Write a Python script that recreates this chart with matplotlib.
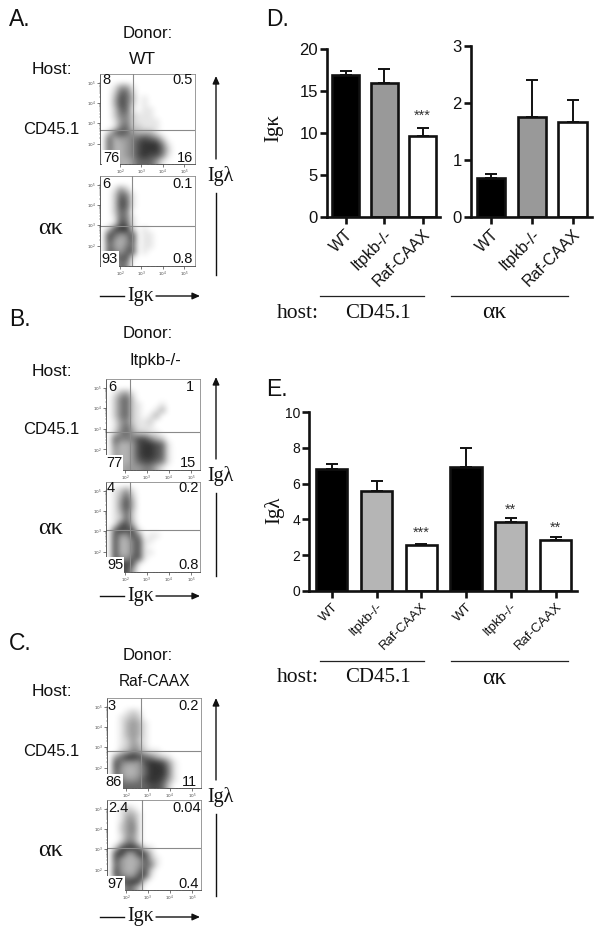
import numpy as np
import matplotlib
matplotlib.use('Agg')
import matplotlib.pyplot as plt

W, H = 600, 933
SANS = 'Liberation Sans'
SERIF = 'Liberation Serif'

# ---- bar data ----
cats = ['WT', 'Itpkb-/-', 'Raf-CAAX']
d_left_vals = [16.9, 15.9, 9.6]
d_left_tops = [17.4, 17.6, 10.6]
d_right_vals = [0.68, 1.75, 1.67]
d_right_tops = [0.75, 2.4, 2.05]
e_vals = [6.8, 5.6, 2.55, 6.9, 3.85, 2.87]
e_tops = [7.1, 6.15, 2.65, 8.0, 4.1, 3.0]
e_cats = cats + cats
d_colors = ['black', '#999999', 'white']
e_colors = ['black', '#b5b5b5', 'white'] * 2

dens_a_top = ["0000000000000000", "0000000000000000", "0014410000000000", "0026620000000000",
              "0037630100000000", "0037620100000000", "0026610110000000", "0025521110000000",
              "0014521111000000", "0015622111000000", "0267643331000000", "0634456765200000",
              "0633457888510000", "0633457888620000", "0533457877510000", "0343346664100000"]
dens_a_bot = ["0000000000000000", "0000000000000000", "0014200000000000", "0026510000000000",
              "0027610000000000", "0027610000000000", "0026500000000000", "0016510000000000",
              "0017610000000000", "0278820100000000", "0764570110000000", "0743470110000000",
              "0643560110000000", "0754670100000000", "0266710000000000", "0036500000000000"]
dens_b_top = ["0000000000000000", "0000000000000000", "0134100000000000", "0256200000000000",
              "0256210001000000", "0256210013000000", "0256210130000000", "0145211200000000",
              "0146311100000000", "0256422110000000", "0655577532000000", "0533478876100000",
              "0433478876100000", "0433478876100000", "0433467765100000", "0234445531000000"]
dens_b_bot = ["0000000000000000", "0124100000000000", "0136200000000000", "0147300000000000",
              "0147300000000000", "0136200000000000", "0126200000000000", "0167300000000000",
              "0687710000000000", "0744750110000000", "0733571100000000", "0733571000000000",
              "0733571100000000", "0744671000000000", "0687710000000000", "0477400000000000"]
dens_c_top = ["0000000000000000", "0000000000000000", "0001210000000000", "0012320000000000",
              "0013431000000000", "0013431000000000", "0013431000000000", "0012421000000000",
              "0012431000000000", "0023542110000000", "0468876532100000", "0754447887410000",
              "0743346888510000", "0643346888510000", "0754457887410000", "0566666776200000"]
dens_c_bot = ["0000000000000000", "0012100000000000", "0013310000000000", "0014410000000000",
              "0024510000000000", "0024510000000000", "0014410000000000", "0025510000000000",
              "0278861100000000", "0784487200000000", "0743347310000000", "0643346510000000",
              "0743357200000000", "0754477100000000", "0277871000000000", "0036520000000000"]

quad_a_top = ['8', '0.5', '76', '16']
quad_a_bot = ['6', '0.1', '93', '0.8']
quad_b_top = ['6', '1', '77', '15']
quad_b_bot = ['4', '0.2', '95', '0.8']
quad_c_top = ['3', '0.2', '86', '11']
quad_c_bot = ['2.4', '0.04', '97', '0.4']

flow_xticks = [2, 3, 4, 5]
flow_yticks = [2, 3, 4, 5]
flow_ticklabels = ['$10^{2}$', '$10^{3}$', '$10^{4}$', '$10^{5}$']

fig = plt.figure(figsize=(W / 100, H / 100), dpi=100, facecolor='white')


def px_axes(l, t, r, b, **kw):
    return fig.add_axes([l / W, 1 - b / H, (r - l) / W, (b - t) / H], **kw)


ov = px_axes(0, 0, W, H)
ov.set_xlim(0, W)
ov.set_ylim(H, 0)
ov.axis('off')
ov.set_zorder(5)


def txt(x, y, s, size=11, fam=SANS, ha='center', va='center', rot=0, color='#111111', **kw):
    ov.text(x, y, s, fontsize=size, family=fam, ha=ha, va=va, rotation=rot, color=color, **kw)


def flow(box, xlim, ylim, gate_x, gate_y, grid, labels, lab_pos, white_box=True):
    l, t, r, b = box
    ax = px_axes(l, t, r, b)
    arr = np.array([[int(c) for c in row] for row in grid], dtype=float)
    ax.imshow(arr, cmap='gray_r', vmin=0, vmax=10, extent=[xlim[0], xlim[1], ylim[0], ylim[1]],
              origin='upper', interpolation='bicubic', aspect='auto')
    ax.set_xlim(xlim)
    ax.set_ylim(ylim)
    ax.axvline(gate_x, color='#8a8a8a', lw=0.8)
    ax.axhline(gate_y, color='#8a8a8a', lw=0.8)
    for s in ax.spines.values():
        s.set_color('#8a8a8a')
        s.set_linewidth(0.6)
    ax.spines['left'].set_color('#444444')
    ax.spines['bottom'].set_color('#444444')
    ax.set_xticks(flow_xticks, flow_ticklabels)
    ax.set_yticks(flow_yticks, flow_ticklabels)
    ax.tick_params(length=2, width=0.5, labelsize=3, pad=1, colors='#444444')
    mins = [d + np.log10(k) for d in (2, 3, 4) for k in range(2, 10)]
    ax.set_xticks([m for m in mins if m < xlim[1]], minor=True)
    ax.set_yticks([m for m in mins if m < ylim[1]], minor=True)
    ax.tick_params(which='minor', length=1, width=0.3, colors='#444444')
    for i, (s, (x, y)) in enumerate(zip(labels, lab_pos)):
        bb = dict(fc='white', ec='none', pad=0.6) if (i == 2 and white_box) else None
        txt(x, y, s, size=10.5, ha='right' if i in (1, 3) else 'center', bbox=bb)


XA, YALL = (1.07, 5.49), (1.0, 5.42)
XB = (1.14, 5.41)
flow((100, 74, 195, 164), XA, YALL, 2.61, 2.66, dens_a_top, quad_a_top,
     [(106, 80), (193, 80), (111, 158), (193, 158)])
flow((100, 176, 195, 266), XA, YALL, 2.56, 2.96, dens_a_bot, quad_a_bot,
     [(106, 184), (193, 184), (110, 259), (193, 259)])
flow((106, 379, 200, 470), XB, YALL, 2.23, 2.85, dens_b_top, quad_b_top,
     [(112, 387), (194, 387), (114, 463), (196, 463)])
flow((106, 482, 200, 572), XB, YALL, 2.23, 3.06, dens_b_bot, quad_b_bot,
     [(111, 488), (199, 488), (115, 565), (199, 565)])
flow((107, 698, 201, 788), XB, YALL, 2.68, 2.82, dens_c_top, quad_c_top,
     [(112, 706), (199, 706), (114, 782), (197, 782)])
flow((107, 800, 201, 890), XB, YALL, 2.73, 3.06, dens_c_bot, quad_c_bot,
     [(118, 808), (201, 808), (116, 884), (199, 884)])


def arrow(x0, y0, x1, y1):
    ov.annotate('', xy=(x1, y1), xytext=(x0, y0),
                arrowprops=dict(arrowstyle='-|>,head_length=0.45,head_width=0.2', color='#111111',
                                lw=1.0, shrinkA=0, shrinkB=0))


def flow_text(letter, ly, donor, donor_y, dy, host_y, cd_y, ak_y, vtop, vbot, vtext, hy):
    txt(9, ly, letter, size=16.5, ha='left')
    txt(148, dy, 'Donor:', size=12)
    txt(donor[1], donor_y, donor[0], size=donor[2])
    txt(52, host_y, 'Host:', size=12.5)
    txt(51, cd_y, 'CD45.1', size=12)
    txt(51, ak_y, '\u03b1\u03ba', size=17.5, fam=SERIF)
    # vertical arrow with label gap
    arrow(216, vtext - 17, 216, vtop)
    ov.plot([216, 216], [vtext + 17, vbot], color='#111111', lw=1.0)
    txt(220, vtext, 'Ig\u03bb', size=14.5, fam=SERIF)
    # horizontal arrow with label gap
    ov.plot([100, 124], [hy, hy], color='#111111', lw=1.0)
    arrow(156, hy, 200, hy)
    txt(141, hy, 'Ig\u03ba', size=14.5, fam=SERIF)


flow_text('A.', 20, ('WT', 142, 12.5), 59, 33, 70, 129, 229, 76, 275, 176, 296)
flow_text('B.', 320, ('Itpkb-/-', 155, 12), 360, 334, 371, 430, 529, 377, 576, 476, 596)
flow_text('C.', 643, ('Raf-CAAX', 155, 11.2), 682, 655, 691, 751, 850, 698, 896, 797, 917)


def bars(box, xlim, ylim, yticks, vals, tops, colors, labels, tsize, lsize, lw=1.9):
    l, t, r, b = box
    ax = px_axes(l, t, r, b)
    ax.patch.set_alpha(0)
    x = np.arange(len(vals))
    ax.errorbar(x, vals, yerr=[np.zeros(len(vals)), np.array(tops) - np.array(vals)], fmt='none',
                ecolor='#111111', elinewidth=1.4, capsize=4.5, capthick=1.4, zorder=1)
    ax.bar(x, vals, width=0.7, color=colors, edgecolor='#111111', linewidth=lw, zorder=2)
    ax.set_xlim(xlim)
    ax.set_ylim(ylim)
    ax.spines['top'].set_visible(False)
    ax.spines['right'].set_visible(False)
    for sp in ('left', 'bottom'):
        ax.spines[sp].set_linewidth(lw)
        ax.spines[sp].set_color('#111111')
    ax.set_yticks(yticks)
    ax.set_xticks(x)
    ax.set_xticklabels(labels, rotation=45, ha='right', rotation_mode='anchor', family=SANS, fontsize=lsize)
    ax.tick_params(axis='y', labelsize=tsize, length=5, width=lw, pad=1.5, color='#111111', labelcolor='#111111')
    ax.tick_params(axis='x', length=5, width=lw, pad=2, color='#111111', labelcolor='#111111')
    for tl in ax.get_yticklabels():
        tl.set_family(SANS)
    return ax


ax_dl = bars((327, 49, 440, 217), (-0.48, 2.45), (0, 20), [0, 5, 10, 15, 20],
             d_left_vals, d_left_tops, d_colors, cats, 12, 11.5)
ax_dr = bars((471, 46, 592, 217), (-0.49, 2.47), (0, 3), [0, 1, 2, 3],
             d_right_vals, d_right_tops, d_colors, cats, 12, 11.5)
ax_e = bars((309, 412, 577, 591), (-0.51, 5.48), (0, 10), [0, 2, 4, 6, 8, 10],
            e_vals, e_tops, e_colors, e_cats, 10, 9.5)

for s, x, y in [('***', 422, 116), ('***', 421, 533), ('**', 510, 510), ('**', 555, 528)]:
    txt(x, y, s, size=10.5, color='#333333')

# panel annotations
txt(266, 20, 'D.', size=16.5, ha='left')
txt(266, 390, 'E.', size=16.5, ha='left')
txt(274, 128, 'Ig\u03ba', size=15, fam=SERIF, rot=90)
txt(274, 510, 'Ig\u03bb', size=15, fam=SERIF, rot=90)
for ly, ty in [(296, 313), (661, 678)]:
    ov.plot([320, 424], [ly, ly], color='#222222', lw=0.9)
    ov.plot([451, 568], [ly, ly], color='#222222', lw=0.9)
    txt(298, ty, 'host:', size=15.5, fam=SERIF)
    txt(378, ty, 'CD45.1', size=15, fam=SERIF)
    txt(494, ty, '\u03b1\u03ba', size=17, fam=SERIF)

fig.savefig('out.png', dpi=100, facecolor='white')
